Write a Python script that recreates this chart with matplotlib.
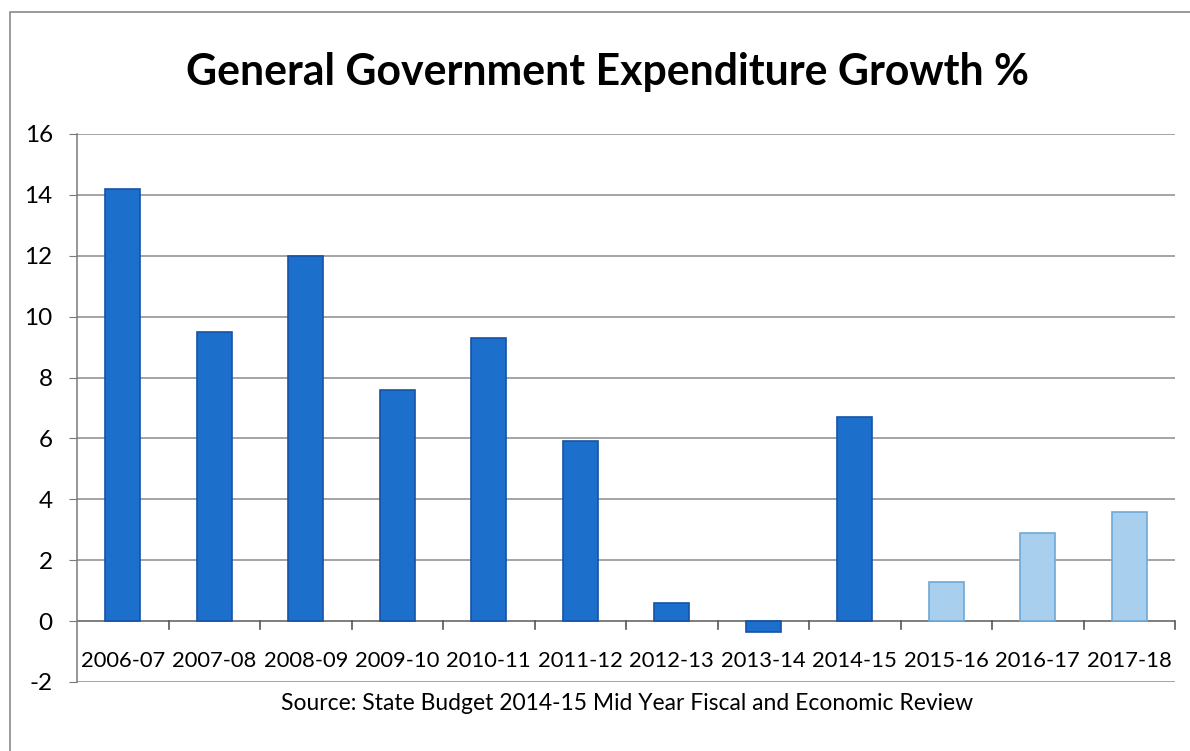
import matplotlib
matplotlib.use("Agg")
import matplotlib.pyplot as plt
from matplotlib.patches import Rectangle

categories = ["2006-07", "2007-08", "2008-09", "2009-10", "2010-11", "2011-12",
              "2012-13", "2013-14", "2014-15", "2015-16", "2016-17", "2017-18"]
growth = [14.2, 9.5, 12.0, 7.6, 9.3, 5.9, 0.6, -0.35, 6.7, 1.3, 2.9, 3.6]
forecast = [False] * 9 + [True] * 3
y_ticks = [-2, 0, 2, 4, 6, 8, 10, 12, 14, 16]

plt.rcParams['font.family'] = ['Lato', 'DejaVu Sans']

W, H = 1190, 751
fig = plt.figure(figsize=(W / 100, H / 100), dpi=100)
fig.patch.set_facecolor("white")

# outer frame
fig.add_artist(Rectangle((10 / W, -0.01), (W + 10) / W, 1 - 12 / H + 0.01,
                         transform=fig.transFigure, fill=False,
                         edgecolor="#8a8a8a", linewidth=1.2))

ax = fig.add_axes([77 / W, 1 - 682 / H, (1175 - 77) / W, (682 - 134) / H])
x = list(range(len(categories)))
fills = ["#a9cfee" if f else "#1c6fcb" for f in forecast]
edges = ["#6ea9d6" if f else "#1553a8" for f in forecast]
ax.bar(x, growth, width=0.38, color=fills, edgecolor=edges, linewidth=1.2, zorder=3)

ax.set_xlim(-0.5, len(categories) - 0.5)
ax.set_ylim(-2, 16)
ax.set_yticks(y_ticks)
ax.set_yticklabels([str(v) for v in y_ticks], fontsize=17.5)
ax.yaxis.grid(True, color="#8c8c8c", linewidth=1.1, zorder=0)
ax.set_axisbelow(True)

for s in ["top", "right", "bottom"]:
    ax.spines[s].set_visible(False)
ax.spines["left"].set_color("#7a7a7a")
ax.spines["left"].set_linewidth(1.1)
ax.tick_params(axis="y", length=6, color="#7a7a7a", pad=11.5)

# x axis at zero with ticks at category boundaries
ax.axhline(0, color="#7a7a7a", linewidth=1.2, zorder=2)
ax.set_xticks([])
ax.tick_params(axis="x", length=0)
for b in range(1, len(categories) + 1):
    ax.plot([b - 0.5, b - 0.5], [0, -0.27], color="#555555", linewidth=1.2,
            clip_on=False, zorder=2)
for xi, lab in zip(x, categories):
    ax.text(xi, -1.3, lab, ha="center", va="center", fontsize=15.8, color="black")

fig.text(607 / W, 1 - 72 / H, "General Government Expenditure Growth %",
         ha="center", va="center", fontsize=30.8, fontweight="bold", color="black")
fig.text(627 / W, 1 - 704 / H,
         "Source: State Budget 2014-15 Mid Year Fiscal and Economic Review",
         ha="center", va="center", fontsize=16.5, color="black")

fig.savefig("out.png", dpi=100, facecolor="white")
